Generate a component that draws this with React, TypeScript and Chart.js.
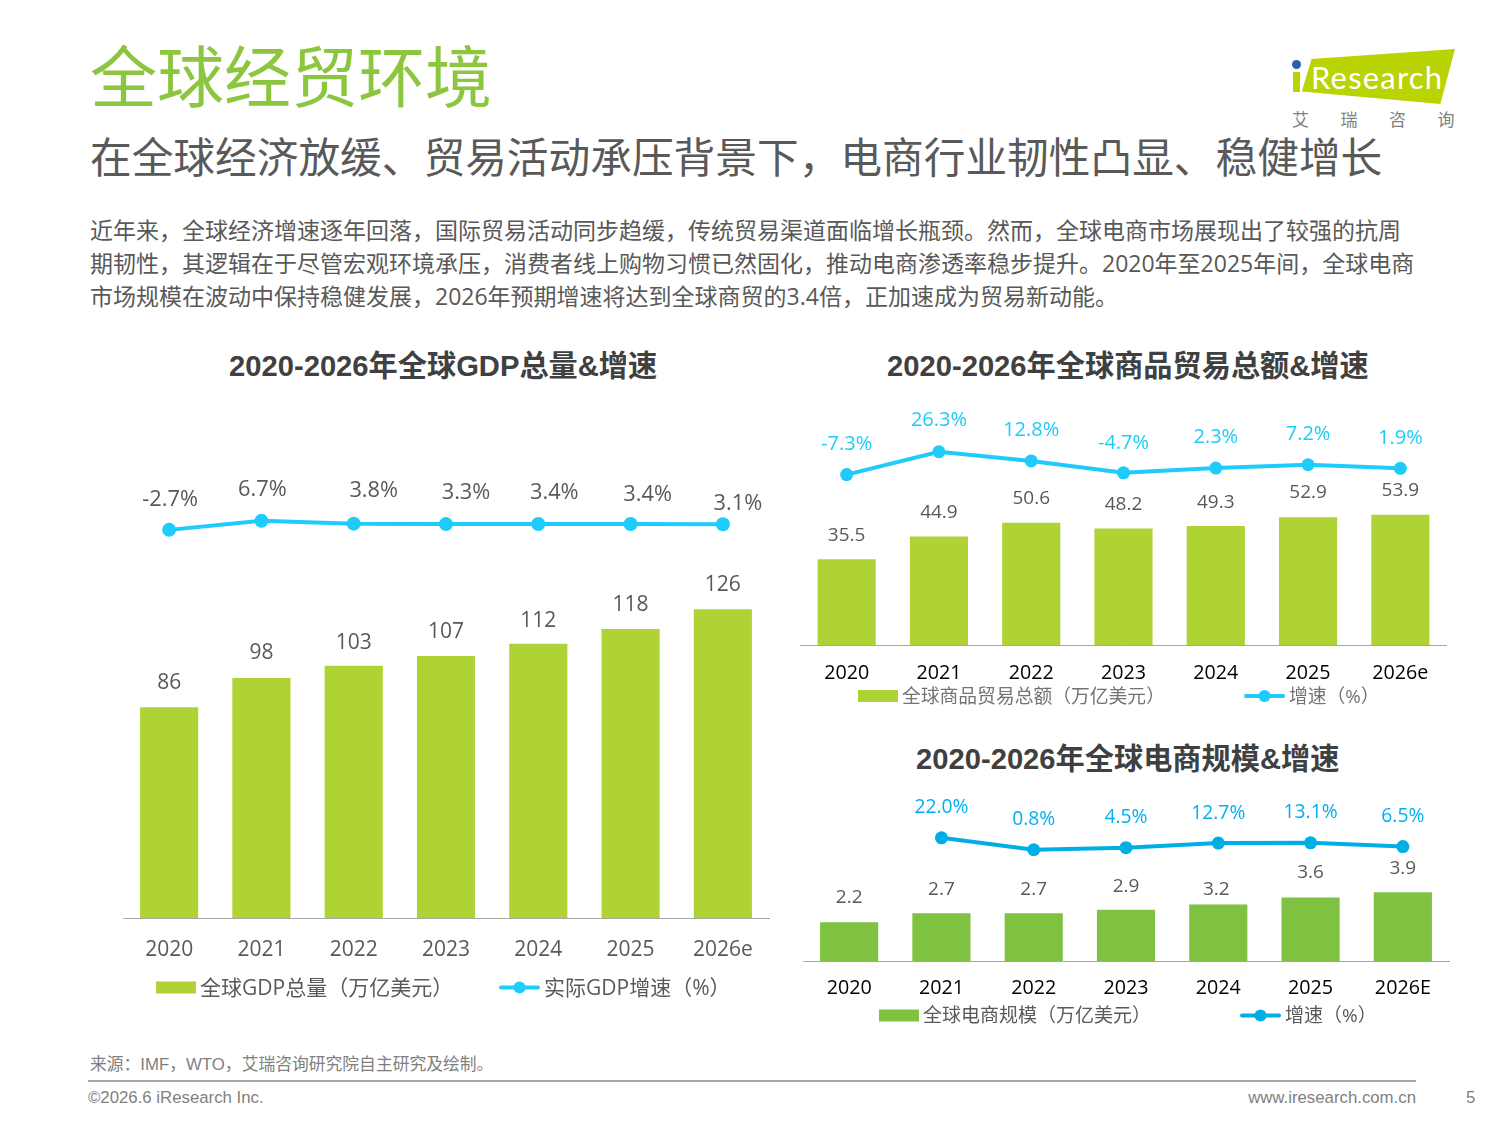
import React, { useEffect, useRef } from 'react';
import { Chart, registerables } from 'chart.js';

Chart.register(...registerables);

const SANS = '"Open Sans", "Noto Sans CJK SC", sans-serif';
const ARIAL = '"Liberation Sans", "Noto Sans CJK SC", sans-serif';
const CJK = '"Noto Sans CJK SC", sans-serif';

// GDP chart
const gdpYears = ['2020', '2021', '2022', '2023', '2024', '2025', '2026e'];
const gdpTotal = [86, 98, 103, 107, 112, 118, 126];
const gdpGrowth = [-2.7, 6.7, 3.8, 3.3, 3.4, 3.4, 3.1];

// goods trade chart
const tradeYears = ['2020', '2021', '2022', '2023', '2024', '2025', '2026e'];
const tradeTotal = [35.5, 44.9, 50.6, 48.2, 49.3, 52.9, 53.9];
const tradeGrowth = [-7.3, 26.3, 12.8, -4.7, 2.3, 7.2, 1.9];

// e-commerce chart
const ecomYears = ['2020', '2021', '2022', '2023', '2024', '2025', '2026E'];
const ecomTotal = [2.2, 2.7, 2.7, 2.9, 3.2, 3.6, 3.9];
const ecomGrowth = [null, 22.0, 0.8, 4.5, 12.7, 13.1, 6.5];

const bodyLines = [
  '近年来，全球经济增速逐年回落，国际贸易活动同步趋缓，传统贸易渠道面临增长瓶颈。然而，全球电商市场展现出了较强的抗周',
  '期韧性，其逻辑在于尽管宏观环境承压，消费者线上购物习惯已然固化，推动电商渗透率稳步提升。2020年至2025年间，全球电商',
  '市场规模在波动中保持稳健发展，2026年预期增速将达到全球商贸的3.4倍，正加速成为贸易新动能。',
];

interface ComboProps {
  years: string[];
  totals: number[];
  growth: (number | null)[];
  barName: string;
  lineName: string;
  frame: { left: number; top: number; width: number; height: number };
  plot: { left: number; right: number; top: number; bottom: number };
  tickCenter: number;
  tickSize: number;
  tickColor: string;
  barMax: number;
  growthRange: [number, number];
  barColor: string;
  lineColor: string;
  lineWidth: number;
  pointRadius: number;
  valueSize: number;
  valueColor: string;
  valueLift: number[];
  valueNudge?: number[];
  growthSize: number;
  growthColor: string;
  growthLift: number[];
  growthNudge?: number[];
  legendY: number;
  legendSize: number;
  legendColor: string;
  swatchX: number;
  barTextX: number;
  lineX: number;
  lineTextX: number;
}

const ComboChart: React.FC<ComboProps> = (p) => {
  const canvasRef = useRef<HTMLCanvasElement | null>(null);

  useEffect(() => {
    if (!canvasRef.current) return;

    // value labels above bars and points, moved by hand like in the slide
    const markLabels = {
      id: 'markLabels',
      afterDatasetsDraw(chart: any) {
        const ctx = chart.ctx;
        ctx.save();
        ctx.textAlign = 'center';
        ctx.textBaseline = 'middle';
        chart.getDatasetMeta(0).data.forEach((el: any, i: number) => {
          ctx.font = `${p.growthSize}px ${SANS}`;
          ctx.fillStyle = p.growthColor;
          const v = p.growth[i];
          if (v === null) return;
          ctx.fillText(v.toFixed(1) + '%', el.x + (p.growthNudge?.[i] ?? 0), el.y - p.growthLift[i]);
        });
        chart.getDatasetMeta(1).data.forEach((el: any, i: number) => {
          ctx.font = `${p.valueSize}px ${SANS}`;
          ctx.fillStyle = p.valueColor;
          ctx.fillText(String(p.totals[i]), el.x + (p.valueNudge?.[i] ?? 0), el.y - p.valueLift[i]);
        });
        ctx.restore();
      },
    };

    // slide legend sits tight under the ticks with uneven gaps, so it is drawn here
    const markLegend = {
      id: 'markLegend',
      afterDraw(chart: any) {
        const ctx = chart.ctx;
        const y = p.legendY - p.frame.top;
        const ox = -p.frame.left;
        ctx.save();
        ctx.fillStyle = p.barColor;
        ctx.fillRect(p.swatchX + ox, y - 6, 40, 12);
        ctx.strokeStyle = p.lineColor;
        ctx.lineWidth = p.lineWidth;
        ctx.lineCap = 'round';
        ctx.beginPath();
        ctx.moveTo(p.lineX + ox + 2, y);
        ctx.lineTo(p.lineX + ox + 39, y);
        ctx.stroke();
        ctx.fillStyle = p.lineColor;
        ctx.beginPath();
        ctx.arc(p.lineX + ox + 20.5, y, 6, 0, Math.PI * 2);
        ctx.fill();
        ctx.font = `${p.legendSize}px ${SANS}`;
        ctx.fillStyle = p.legendColor;
        ctx.textBaseline = 'middle';
        ctx.fillText(p.barName, p.barTextX + ox, y + 1.5);
        ctx.fillText(p.lineName, p.lineTextX + ox, y + 1.5);
        ctx.restore();
      },
    };

    const tickBox = p.tickSize * 1.2;
    const tickPad = p.tickCenter - p.plot.bottom - tickBox / 2;

    const chart = new Chart(canvasRef.current, {
      type: 'bar',
      data: {
        labels: p.years,
        datasets: [
          {
            type: 'line',
            label: p.lineName,
            data: p.growth,
            yAxisID: 'y1',
            borderColor: p.lineColor,
            backgroundColor: p.lineColor,
            borderWidth: p.lineWidth,
            pointRadius: p.pointRadius,
            pointBackgroundColor: p.lineColor,
            pointBorderWidth: 0,
            tension: 0,
            order: 0,
          },
          {
            type: 'bar',
            label: p.barName,
            data: p.totals,
            yAxisID: 'y',
            backgroundColor: p.barColor,
            categoryPercentage: 1,
            barPercentage: 0.63,
            order: 1,
          },
        ] as any,
      },
      options: {
        animation: false,
        responsive: false,
        devicePixelRatio: 1,
        layout: {
          padding: {
            left: p.plot.left - p.frame.left,
            right: p.frame.left + p.frame.width - p.plot.right,
            top: p.plot.top - p.frame.top,
            // the x axis reserves its tick padding twice
            bottom: p.frame.top + p.frame.height - p.plot.bottom - tickPad * 2 - tickBox,
          },
        },
        scales: {
          x: {
            grid: { display: false, drawTicks: false },
            border: { color: '#a6a6a6', width: 1 },
            ticks: {
              color: p.tickColor,
              font: { family: SANS, size: p.tickSize },
              padding: tickPad,
              maxRotation: 0,
              autoSkip: false,
            },
          },
          y: { display: false, min: 0, max: p.barMax },
          y1: { display: false, min: p.growthRange[0], max: p.growthRange[1] },
        },
        plugins: {
          legend: { display: false },
          tooltip: { enabled: false },
        },
      },
      plugins: [markLabels, markLegend],
    });

    return () => {
      chart.destroy();
    };
  }, []);

  return (
    <canvas
      ref={canvasRef}
      width={p.frame.width}
      height={p.frame.height}
      style={{
        position: 'absolute',
        left: p.frame.left,
        top: p.frame.top,
        width: p.frame.width,
        height: p.frame.height,
      }}
    />
  );
};

// one absolutely placed line of text, y is the vertical centre
const Line: React.FC<{
  x?: number;
  right?: number;
  y: number;
  size: number;
  color: string;
  family?: string;
  weight?: number;
  spacing?: number;
  children: React.ReactNode;
}> = ({ x, right, y, size, color, family = SANS, weight = 400, spacing, children }) => (
  <div
    style={{
      position: 'absolute',
      left: x,
      right,
      top: y - size,
      lineHeight: `${size * 2}px`,
      fontSize: size,
      color,
      fontFamily: family,
      fontWeight: weight,
      letterSpacing: spacing,
      whiteSpace: 'nowrap',
    }}
  >
    {children}
  </div>
);

const Logo: React.FC = () => (
  <>
    <div
      style={{
        position: 'absolute',
        left: 1292,
        top: 49,
        width: 163,
        height: 56,
        background: '#b9d305',
        clipPath: 'polygon(12% 18%, 100% 0%, 91% 98%, 6% 76%)',
      }}
    />
    <div style={{ position: 'absolute', left: 1293, top: 72, width: 7, height: 20, background: '#b9d305' }} />
    <div style={{ position: 'absolute', left: 1292, top: 60, width: 9, height: 9, borderRadius: 5, background: '#2b5fa8' }} />
    <Line x={1311} y={77} size={31} color="#ffffff" family='"Lato", sans-serif' spacing={1.2}>
      Research
    </Line>
    <Line x={1292} y={119} size={17} color="#808080" family={CJK} spacing={31.5}>
      艾瑞咨询
    </Line>
  </>
);

const App: React.FC = () => (
  <div
    style={{
      position: 'absolute',
      left: 0,
      top: 0,
      width: 1500,
      height: 1125,
      background: '#fff',
      overflow: 'hidden',
    }}
  >
    <Line x={90} y={73} size={67} color="#8cc63f" family={CJK}>
      全球经贸环境
    </Line>
    <Line x={90} y={156} size={41.7} color="#595959" family={CJK}>
      在全球经济放缓、贸易活动承压背景下，电商行业韧性凸显、稳健增长
    </Line>
    <Logo />
    {bodyLines.map((text, i) => (
      <Line key={i} x={90} y={230 + i * 33} size={23} color="#595959">
        {text}
      </Line>
    ))}

    <Line x={229} y={366} size={29.2} color="#404040" family={ARIAL} weight={700}>
      2020-2026年全球GDP总量&amp;增速
    </Line>
    <Line x={887} y={366} size={29.2} color="#404040" family={ARIAL} weight={700}>
      2020-2026年全球商品贸易总额&amp;增速
    </Line>
    <Line x={916} y={759} size={29.2} color="#404040" family={ARIAL} weight={700}>
      2020-2026年全球电商规模&amp;增速
    </Line>

    <ComboChart
      years={gdpYears}
      totals={gdpTotal}
      growth={gdpGrowth}
      barName="全球GDP总量（万亿美元）"
      lineName="实际GDP增速（%）"
      frame={{ left: 100, top: 400, width: 686, height: 610 }}
      plot={{ left: 123, right: 769, top: 420, bottom: 918 }}
      tickCenter={950}
      tickSize={21}
      tickColor="#595959"
      barMax={203.3}
      growthRange={[-407, 111.75]}
      barColor="#afd334"
      lineColor="#1ecbfa"
      lineWidth={4}
      pointRadius={7}
      valueSize={21}
      valueColor="#595959"
      valueLift={[24, 25, 23, 24, 23, 24, 24]}
      growthSize={21.8}
      growthColor="#595959"
      growthLift={[30, 31, 33, 31, 31, 29, 21]}
      growthNudge={[1, 1, 20, 20, 16, 17, 15]}
      legendY={987.5}
      legendSize={21}
      legendColor="#595959"
      swatchX={156}
      barTextX={200}
      lineX={499}
      lineTextX={544}
    />

    <ComboChart
      years={tradeYears}
      totals={tradeTotal}
      growth={tradeGrowth}
      barName="全球商品贸易总额（万亿美元）"
      lineName="增速（%）"
      frame={{ left: 790, top: 395, width: 675, height: 320 }}
      plot={{ left: 800.5, right: 1446.5, top: 400, bottom: 645 }}
      tickCenter={673}
      tickSize={19.7}
      tickColor="#000000"
      barMax={100.8}
      growthRange={[-257.6, 100.1]}
      barColor="#afd334"
      lineColor="#1ecbfa"
      lineWidth={4}
      pointRadius={6.5}
      valueSize={19}
      valueColor="#595959"
      valueLift={[24, 24, 24, 24, 23, 25, 24]}
      growthSize={20}
      growthColor="#1ecbfa"
      growthLift={[30, 31, 31, 30, 31, 30, 30]}
      legendY={696}
      legendSize={18.8}
      legendColor="#737373"
      swatchX={858}
      barTextX={902}
      lineX={1244}
      lineTextX={1289}
    />

    <ComboChart
      years={ecomYears}
      totals={ecomTotal}
      growth={ecomGrowth}
      barName="全球电商规模（万亿美元）"
      lineName="增速（%）"
      frame={{ left: 790, top: 785, width: 675, height: 250 }}
      plot={{ left: 803, right: 1449, top: 790, bottom: 961 }}
      tickCenter={988}
      tickSize={19.7}
      tickColor="#000000"
      barMax={9.607}
      growthRange={[-197.5, 104.6]}
      barColor="#7fc241"
      lineColor="#00aee6"
      lineWidth={4}
      pointRadius={6.5}
      valueSize={19}
      valueColor="#595959"
      valueLift={[25, 24, 24, 23, 15, 25, 24]}
      valueNudge={[0, 0, 0, 0, -2, 0, 0]}
      growthSize={19.3}
      growthColor="#00b0f0"
      growthLift={[0, 30, 30, 30, 30, 30, 30]}
      legendY={1015.5}
      legendSize={19}
      legendColor="#595959"
      swatchX={879}
      barTextX={923}
      lineX={1240}
      lineTextX={1285}
    />

    <Line x={90} y={1065} size={16.8} color="#7f7f7f" family={ARIAL}>
      来源：IMF，WTO，艾瑞咨询研究院自主研究及绘制。
    </Line>
    <div style={{ position: 'absolute', left: 88, top: 1080, width: 1328, height: 2, background: '#a6a6a6' }} />
    <Line x={88} y={1098} size={16.8} color="#7f7f7f" family={ARIAL}>
      ©2026.6 iResearch Inc.
    </Line>
    <Line right={84} y={1098} size={16.8} color="#7f7f7f" family={ARIAL}>
      www.iresearch.com.cn
    </Line>
    <Line x={1466} y={1098} size={16.8} color="#7f7f7f" family={ARIAL}>
      5
    </Line>
  </div>
);

export default App;
